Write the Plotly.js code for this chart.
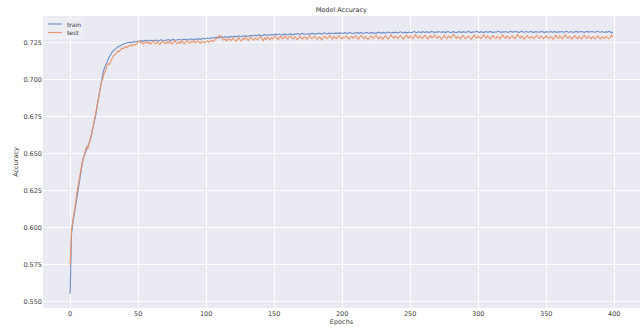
<!DOCTYPE html>
<html>
<head>
<meta charset="utf-8">
<script src="https://cdn.plot.ly/plotly-3.0.1.min.js"></script>
<style>html,body{margin:0;padding:0;background:#fff;}#chart{width:644px;height:331px;}</style>
</head>
<body>
<div id="chart"></div>
<script>
var trainAcc = [
0.5555,0.5960,0.6030,0.6090,0.6160,0.6230,0.6280,0.6340,0.6400,0.6440,
0.6480,0.6510,0.6530,0.6550,0.6570,0.6600,0.6640,0.6680,0.6720,0.6770,
0.6830,0.6890,0.6950,0.7000,0.7040,0.7075,0.7100,0.7125,0.7140,0.7160,
0.7180,0.7190,0.7200,0.7210,0.7215,0.7222,0.7228,0.7232,0.7238,0.7241,
0.7246,0.7249,0.7250,0.7253,0.7255,0.7252,0.7258,0.7260,0.7257,0.7262,
0.7263,0.7260,0.7266,0.7264,0.7262,0.7267,0.7265,0.7269,0.7263,0.7266,
0.7268,0.7264,0.7267,0.7270,0.7266,0.7263,0.7268,0.7271,0.7267,0.7265,
0.7270,0.7268,0.7273,0.7269,0.7266,0.7271,0.7274,0.7270,0.7268,0.7272,
0.7275,0.7271,0.7269,0.7274,0.7272,0.7276,0.7273,0.7270,0.7275,0.7278,
0.7274,0.7272,0.7277,0.7275,0.7279,0.7276,0.7273,0.7278,0.7281,0.7277,
0.7280,0.7283,0.7279,0.7284,0.7286,0.7282,0.7287,0.7285,0.7289,0.7284,
0.7288,0.7291,0.7286,0.7290,0.7293,0.7289,0.7287,0.7292,0.7294,0.7290,
0.7293,0.7296,0.7291,0.7295,0.7298,0.7294,0.7292,0.7297,0.7295,0.7299,
0.7296,0.7294,0.7299,0.7301,0.7297,0.7300,0.7303,0.7298,0.7301,0.7304,
0.7300,0.7298,0.7303,0.7306,0.7302,0.7305,0.7301,0.7304,0.7307,0.7303,
0.7306,0.7309,0.7304,0.7307,0.7310,0.7306,0.7303,0.7308,0.7311,0.7307,
0.7305,0.7310,0.7312,0.7308,0.7306,0.7311,0.7309,0.7313,0.7310,0.7307,
0.7312,0.7314,0.7309,0.7311,0.7315,0.7312,0.7308,0.7313,0.7316,0.7311,
0.7309,0.7314,0.7312,0.7316,0.7313,0.7310,0.7315,0.7318,0.7314,0.7311,
0.7316,0.7313,0.7317,0.7315,0.7312,0.7318,0.7316,0.7313,0.7319,0.7315,
0.7317,0.7314,0.7319,0.7316,0.7313,0.7318,0.7320,0.7316,0.7314,0.7319,
0.7317,0.7321,0.7315,0.7318,0.7320,0.7316,0.7314,0.7319,0.7322,0.7317,
0.7315,0.7320,0.7318,0.7321,0.7317,0.7315,0.7320,0.7323,0.7318,0.7316,
0.7321,0.7319,0.7316,0.7322,0.7324,0.7319,0.7317,0.7321,0.7318,0.7323,
0.7320,0.7317,0.7322,0.7325,0.7320,0.7318,0.7323,0.7321,0.7318,0.7324,
0.7322,0.7319,0.7324,0.7327,0.7322,0.7320,0.7325,0.7323,0.7320,0.7326,
0.7323,0.7321,0.7326,0.7324,0.7320,0.7325,0.7328,0.7323,0.7321,0.7325,
0.7322,0.7327,0.7324,0.7321,0.7326,0.7323,0.7320,0.7325,0.7327,0.7322,
0.7320,0.7324,0.7326,0.7322,0.7319,0.7324,0.7327,0.7323,0.7321,0.7326,
0.7324,0.7321,0.7325,0.7328,0.7323,0.7320,0.7325,0.7322,0.7326,0.7329,
0.7324,0.7321,0.7326,0.7323,0.7320,0.7325,0.7327,0.7322,0.7324,0.7328,
0.7323,0.7320,0.7325,0.7322,0.7326,0.7329,0.7324,0.7321,0.7326,0.7323,
0.7327,0.7324,0.7321,0.7326,0.7328,0.7323,0.7325,0.7322,0.7327,0.7324,
0.7321,0.7326,0.7329,0.7324,0.7322,0.7327,0.7325,0.7322,0.7326,0.7328,
0.7323,0.7321,0.7326,0.7324,0.7327,0.7322,0.7325,0.7328,0.7323,0.7321,
0.7326,0.7324,0.7322,0.7327,0.7325,0.7322,0.7328,0.7324,0.7321,0.7326,
0.7323,0.7327,0.7325,0.7322,0.7326,0.7329,0.7324,0.7322,0.7327,0.7324,
0.7321,0.7326,0.7328,0.7323,0.7325,0.7322,0.7327,0.7324,0.7321,0.7326,
0.7328,0.7323,0.7325,0.7322,0.7327,0.7324,0.7322,0.7326,0.7329,0.7324,
0.7322,0.7327,0.7325,0.7321,0.7326,0.7323,0.7328,0.7325,0.7322,0.7318
];
var testAcc = [
0.5750,0.5990,0.6050,0.6100,0.6170,0.6240,0.6300,0.6350,0.6400,0.6450,
0.6480,0.6520,0.6550,0.6535,0.6570,0.6600,0.6650,0.6690,0.6740,0.6780,
0.6840,0.6880,0.6940,0.6985,0.7010,0.7045,0.7060,0.7095,0.7110,0.7105,
0.7130,0.7150,0.7165,0.7170,0.7185,0.7195,0.7190,0.7205,0.7215,0.7210,
0.7222,0.7225,0.7218,0.7232,0.7228,0.7238,0.7230,0.7242,0.7236,0.7245,
0.7258,0.7262,0.7249,0.7255,0.7243,0.7252,0.7260,0.7247,0.7256,0.7241,
0.7253,0.7264,0.7250,0.7245,0.7258,0.7248,0.7239,0.7254,0.7262,0.7251,
0.7244,0.7257,0.7249,0.7261,0.7252,0.7242,0.7255,0.7265,0.7250,0.7246,
0.7259,0.7248,0.7263,0.7254,0.7243,0.7257,0.7266,0.7252,0.7247,0.7261,
0.7255,0.7268,0.7250,0.7258,0.7264,0.7253,0.7248,0.7262,0.7256,0.7251,
0.7259,0.7265,0.7254,0.7262,0.7270,0.7258,0.7266,0.7274,0.7285,0.7296,
0.7302,0.7288,0.7275,0.7268,0.7279,0.7263,0.7272,0.7280,0.7266,0.7274,
0.7283,0.7269,0.7261,0.7277,0.7286,0.7271,0.7264,0.7280,0.7273,0.7289,
0.7276,0.7265,0.7282,0.7290,0.7274,0.7268,0.7285,0.7278,0.7270,0.7287,
0.7293,0.7279,0.7266,0.7284,0.7275,0.7291,0.7281,0.7269,0.7286,0.7277,
0.7289,0.7296,0.7280,0.7272,0.7287,0.7294,0.7278,0.7283,0.7297,0.7285,
0.7274,0.7290,0.7298,0.7282,0.7276,0.7292,0.7286,0.7271,0.7288,0.7295,
0.7281,0.7277,0.7293,0.7287,0.7273,0.7289,0.7299,0.7284,0.7279,0.7291,
0.7296,0.7280,0.7275,0.7292,0.7286,0.7270,0.7284,0.7297,0.7289,0.7278,
0.7290,0.7301,0.7285,0.7276,0.7294,0.7288,0.7279,0.7293,0.7300,0.7283,
0.7277,0.7291,0.7286,0.7298,0.7282,0.7274,0.7289,0.7295,0.7281,0.7287,
0.7299,0.7284,0.7276,0.7292,0.7303,0.7288,0.7279,0.7294,0.7286,0.7272,
0.7285,0.7297,0.7290,0.7280,0.7295,0.7302,0.7287,0.7278,0.7293,0.7284,
0.7275,0.7290,0.7298,0.7283,0.7277,0.7292,0.7305,0.7289,0.7281,0.7296,
0.7288,0.7279,0.7294,0.7300,0.7285,0.7276,0.7291,0.7303,0.7290,0.7282,
0.7297,0.7286,0.7278,0.7293,0.7306,0.7291,0.7283,0.7298,0.7288,0.7279,
0.7294,0.7301,0.7287,0.7276,0.7292,0.7299,0.7284,0.7290,0.7304,0.7288,
0.7280,0.7295,0.7289,0.7275,0.7291,0.7302,0.7286,0.7279,0.7296,0.7290,
0.7283,0.7298,0.7308,0.7292,0.7281,0.7294,0.7287,0.7277,0.7293,0.7300,
0.7285,0.7278,0.7291,0.7297,0.7284,0.7274,0.7289,0.7302,0.7292,0.7282,
0.7296,0.7288,0.7279,0.7293,0.7306,0.7290,0.7283,0.7297,0.7287,0.7276,
0.7291,0.7301,0.7286,0.7280,0.7295,0.7289,0.7278,0.7294,0.7304,0.7288,
0.7281,0.7296,0.7290,0.7277,0.7292,0.7299,0.7285,0.7279,0.7294,0.7307,
0.7291,0.7283,0.7297,0.7288,0.7276,0.7290,0.7300,0.7286,0.7281,0.7295,
0.7289,0.7278,0.7293,0.7303,0.7287,0.7280,0.7296,0.7290,0.7277,0.7292,
0.7299,0.7284,0.7279,0.7294,0.7288,0.7275,0.7291,0.7302,0.7286,0.7281,
0.7297,0.7290,0.7278,0.7293,0.7305,0.7289,0.7282,0.7295,0.7287,0.7276,
0.7291,0.7300,0.7285,0.7279,0.7294,0.7288,0.7277,0.7292,0.7301,0.7286,
0.7280,0.7296,0.7290,0.7278,0.7293,0.7284,0.7275,0.7289,0.7298,0.7283,
0.7277,0.7292,0.7287,0.7280,0.7295,0.7289,0.7279,0.7285,0.7303,0.7291
];
var epochs = trainAcc.map(function(_, i){ return i; });
var seriesNames = ['train', 'test'];
var seriesColors = ['#6a8cc7', '#e9956a'];
var xTicks = [0, 50, 100, 150, 200, 250, 300, 350, 400];
var yTicks = [0.550, 0.575, 0.600, 0.625, 0.650, 0.675, 0.700, 0.725];

var font = {family: 'DejaVu Sans, sans-serif', size: 6.5, color: '#444'};
var data = [
  {x: epochs, y: trainAcc, name: seriesNames[0], type: 'scatter', mode: 'lines',
   line: {color: seriesColors[0], width: 1.1}},
  {x: epochs, y: testAcc, name: seriesNames[1], type: 'scatter', mode: 'lines',
   line: {color: seriesColors[1], width: 1.1}}
];

// compact legend in paper coordinates (plot area 43..640 x 16..308 px)
var L = 43, W = 597, T = 16, H = 292;
function px(x){ return (x - L) / W; }
function py(y){ return (T + H - y) / H; }
var shapes = [
  {type: 'rect', xref: 'paper', yref: 'paper', x0: px(45.5), x1: px(82), y0: py(38), y1: py(19),
   fillcolor: 'rgba(236,236,243,0.85)', line: {color: '#f6f6f9', width: 1}, layer: 'above'}
];
var annotations = [];
var rowsY = [24, 32.5];
seriesNames.forEach(function(n, i){
  shapes.push({type: 'line', xref: 'paper', yref: 'paper', x0: px(48), x1: px(62), y0: py(rowsY[i]), y1: py(rowsY[i]),
               line: {color: seriesColors[i], width: 1.1}, layer: 'above'});
  annotations.push({xref: 'paper', yref: 'paper', x: px(65), y: py(rowsY[i]), xanchor: 'left', yanchor: 'middle',
                    text: n, showarrow: false, font: {family: font.family, size: 6, color: '#333'}});
});

var layout = {
  width: 644, height: 331,
  margin: {l: 43, r: 4, t: 16, b: 23, pad: 0},
  paper_bgcolor: '#ffffff', plot_bgcolor: '#eaeaf2',
  font: font,
  title: {text: 'Model Accuracy', font: {family: font.family, size: 6.5, color: '#333'}, x: 0.53, xanchor: 'center', y: 0.97, yanchor: 'middle'},
  showlegend: false,
  shapes: shapes,
  annotations: annotations,
  xaxis: {range: [-19.95, 418.95], tickvals: xTicks, ticktext: xTicks.map(String),
          showgrid: true, gridcolor: '#ffffff', gridwidth: 1, zeroline: false, showline: false,
          ticks: '', ticklen: 0, tickfont: font, automargin: false,
          title: {text: 'Epochs', font: font, standoff: 2}},
  yaxis: {range: [0.5459, 0.7432], tickvals: yTicks, ticktext: yTicks.map(function(v){return v.toFixed(3);}),
          showgrid: true, gridcolor: '#ffffff', gridwidth: 1, zeroline: false, showline: false,
          ticks: '', ticklen: 0, tickfont: font, automargin: false,
          title: {text: 'Accuracy', font: font, standoff: 4}}
};
Plotly.newPlot('chart', data, layout, {displayModeBar: false, staticPlot: true});
</script>
</body>
</html>
